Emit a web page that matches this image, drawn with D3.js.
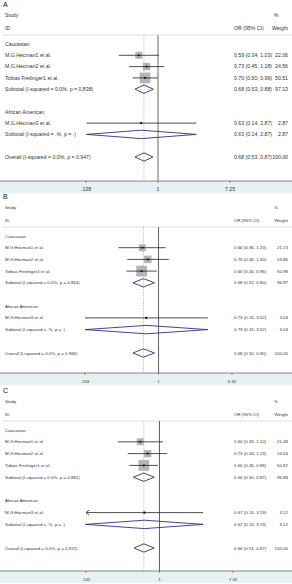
<!DOCTYPE html>
<html>
<head>
<meta charset="utf-8">
<script src="https://cdn.jsdelivr.net/npm/d3@7"></script>
<style>
  body { margin: 0; background: #fff; }
  svg { display: block; font-family: "Liberation Sans", Arial, sans-serif; }
</style>
</head>
<body>
<script>
// ---- data ----
const studies = ["M.G.Hecman1 et al.", "M.G.Hecman2 et al.", "Tobias Freilinger1 et al.", "M.G.Hecman3 et al."];
const groups = ["Caucasian", "African American"];
const studyGroup = [0, 0, 0, 1];
const panelNames = ["A", "B", "C"];

// panel A
const orA = [0.59, 0.73, 0.70, 0.63];
const loA = [0.34, 0.45, 0.50, 0.14];
const hiA = [1.03, 1.18, 0.99, 2.87];
const wtA = [22.06, 24.56, 50.51, 2.87];
const subA = [[0.68, 0.53, 0.88, 97.13], [0.63, 0.14, 2.87, 2.87]];
const allA = [0.68, 0.53, 0.87, 100.00];
const hetA = ["0.0%, p = 0.838", ".%, p = .", "0.0%, p = 0.947"];
const ticksA = [0.138, 1, 7.25];
const tickLabelsA = [".138", "1", "7.25"];

// panel B (lower limit of study 4 shown as 0.15, lies on the .153 axis end)
const orB = [0.66, 0.76, 0.65, 0.73];
const loB = [0.36, 0.45, 0.44, 0.153];
const hiB = [1.20, 1.30, 0.96, 3.52];
const wtB = [21.13, 24.86, 50.98, 3.03];
const subB = [[0.68, 0.52, 0.90, 96.97], [0.73, 0.153, 3.52, 3.03]];
const allB = [0.68, 0.52, 0.90, 100.00];
const hetB = ["0.0%, p = 0.854", ".%, p = .", "0.0%, p = 0.966"];
const ticksB = [0.153, 1, 6.52];
const tickLabelsB = [".153", "1", "6.52"];

// panel C
const orC = [0.60, 0.73, 0.66, 0.67];
const loC = [0.33, 0.43, 0.45, 0.14];
const hiC = [1.10, 1.23, 0.96, 3.19];
const wtC = [21.48, 24.53, 50.87, 3.12];
const subC = [[0.66, 0.50, 0.87, 96.88], [0.67, 0.14, 3.19, 3.12]];
const allC = [0.66, 0.51, 0.87, 100.00];
const hetC = ["0.0%, p = 0.891", ".%, p = .", "0.0%, p = 0.972"];
const ticksC = [0.142, 1, 7.05];
const tickLabelsC = [".142", "1", "7.05"];

// ---- layout (not data) ----
const W = 292, H = 584;
const layouts = [
  { top: 0,   step: 11.3, axis: 181, range: [86, 230], font: 5.2, nullCol: "#a0a0a0", nullW: 1.6 },
  { top: 192, step: 11.7, axis: 181, range: [85, 232], font: 4.4, nullCol: "#3a3a3a", nullW: 0.8 },
  { top: 386, step: 11.8, axis: 185, range: [86, 233], font: 4.4, nullCol: "#3a3a3a", nullW: 0.8 }
];
const panels = [
  { or: orA, lo: loA, hi: hiA, wt: wtA, sub: subA, all: allA, het: hetA, ticks: ticksA, tl: tickLabelsA },
  { or: orB, lo: loB, hi: hiB, wt: wtB, sub: subB, all: allB, het: hetB, ticks: ticksB, tl: tickLabelsB },
  { or: orC, lo: loC, hi: hiC, wt: wtC, sub: subC, all: allC, het: hetC, ticks: ticksC, tl: tickLabelsC }
];

const f2 = d3.format(".2f");
const textCol = "#333", navy = "#2f2f86";

const svg = d3.select("body").append("svg").attr("width", W).attr("height", H);

panels.forEach((p, pi) => {
  const L = layouts[pi];
  const g = svg.append("g").attr("transform", `translate(0,${L.top})`);
  const x = d3.scaleLog().domain([p.ticks[0], p.ticks[2]]).range(L.range);
  const rowY = d3.scaleLinear().domain([0, 1]).range([44, 44 + L.step]);
  const fs = L.font;

  // rows in display order
  const rows = [];
  groups.forEach((grp, gi) => {
    const base = gi === 0 ? 0 : 6;
    rows.push({ type: "group", label: grp, i: base });
    let k = 1;
    studies.forEach((s, si) => {
      if (studyGroup[si] !== gi) return;
      rows.push({ type: "study", label: s, i: base + k, or: p.or[si], lo: p.lo[si], hi: p.hi[si], wt: p.wt[si] });
      k++;
    });
    const sb = p.sub[gi];
    rows.push({ type: "diamond", label: `Subtotal  (I-squared = ${p.het[gi]})`, i: base + k, or: sb[0], lo: sb[1], hi: sb[2], wt: sb[3] });
  });
  rows.push({ type: "diamond", label: `Overall  (I-squared = ${p.het[2]})`, i: 10, or: p.all[0], lo: p.all[1], hi: p.all[2], wt: p.all[3] });

  // panel letter
  g.append("text").attr("x", 3).attr("y", 5).attr("dy", "0.35em")
    .attr("font-size", 7).attr("fill", "#111").text(panelNames[pi]);

  // header
  const hdr = g.append("g").attr("font-size", fs).attr("fill", textCol);
  hdr.append("text").attr("x", 5).attr("y", 15).attr("dy", "0.35em").text("Study");
  hdr.append("text").attr("x", 5).attr("y", 28).attr("dy", "0.35em").text("ID");
  hdr.append("text").attr("x", 276).attr("y", 15).attr("dy", "0.35em").attr("text-anchor", "middle").text("%");
  hdr.append("text").attr("x", 234).attr("y", 28).attr("dy", "0.35em").text("OR (95% CI)");
  hdr.append("text").attr("x", 288).attr("y", 28).attr("dy", "0.35em").attr("text-anchor", "end").text("Weight");
  g.append("line").attr("x1", 2).attr("x2", W).attr("y1", 35).attr("y2", 35)
    .attr("stroke", "#d4d4d4").attr("stroke-width", 0.8);

  // axis band + axis
  g.append("rect").attr("x", 0).attr("y", L.axis).attr("width", W).attr("height", 12).attr("fill", "#e6f1f3");
  g.append("line").attr("x1", 0).attr("x2", W).attr("y1", L.axis).attr("y2", L.axis)
    .attr("stroke", "#555").attr("stroke-width", 0.7);
  const tk = g.selectAll(".tk").data(p.ticks).join("g").attr("class", "tk");
  tk.append("line").attr("x1", d => x(d)).attr("x2", d => x(d)).attr("y1", L.axis).attr("y2", L.axis + 2)
    .attr("stroke", "#555").attr("stroke-width", 0.6);
  tk.append("text").attr("x", d => x(d)).attr("y", L.axis + 8).attr("dy", "0.35em")
    .attr("text-anchor", "middle").attr("font-size", fs).attr("fill", textCol)
    .text((d, i) => p.tl[i]);

  // null line and overall dashed line
  g.append("line").attr("x1", x(1)).attr("x2", x(1)).attr("y1", 35).attr("y2", L.axis)
    .attr("stroke", L.nullCol).attr("stroke-width", L.nullW);
  g.append("line").attr("x1", x(p.all[0])).attr("x2", x(p.all[0])).attr("y1", 35).attr("y2", L.axis)
    .attr("stroke", "#9a9a9a").attr("stroke-width", 0.6).attr("stroke-dasharray", "1.5,1.2");

  // row labels
  g.selectAll(".lab").data(rows).join("text").attr("class", "lab")
    .attr("x", 5).attr("y", d => rowY(d.i)).attr("dy", "0.35em")
    .attr("font-size", fs).attr("fill", textCol).text(d => d.label);

  const est = rows.filter(d => d.type !== "group");
  g.selectAll(".ci").data(est).join("text").attr("class", "ci")
    .attr("x", 234).attr("y", d => rowY(d.i)).attr("dy", "0.35em")
    .attr("font-size", fs).attr("fill", textCol)
    .text(d => `${f2(d.or)} (${f2(d.lo)}, ${f2(d.hi)})`);
  g.selectAll(".wt").data(est).join("text").attr("class", "wt")
    .attr("x", 288).attr("y", d => rowY(d.i)).attr("dy", "0.35em").attr("text-anchor", "end")
    .attr("font-size", fs).attr("fill", textCol).text(d => f2(d.wt));

  // studies: box, CI line, dot
  const st = rows.filter(d => d.type === "study");
  const [dmin, dmax] = x.domain();
  g.selectAll(".box").data(st).join("rect").attr("class", "box")
    .attr("x", d => x(d.or) - 0.75 * Math.sqrt(d.wt)).attr("y", d => rowY(d.i) - 0.75 * Math.sqrt(d.wt))
    .attr("width", d => 1.5 * Math.sqrt(d.wt)).attr("height", d => 1.5 * Math.sqrt(d.wt))
    .attr("fill", "#b4b4b4");
  g.selectAll(".ciline").data(st).join("line").attr("class", "ciline")
    .attr("x1", d => x(Math.max(d.lo, dmin))).attr("x2", d => x(Math.min(d.hi, dmax)))
    .attr("y1", d => rowY(d.i)).attr("y2", d => rowY(d.i))
    .attr("stroke", "#222").attr("stroke-width", 0.8);
  g.selectAll(".arrow").data(st.filter(d => d.lo < dmin)).join("path").attr("class", "arrow")
    .attr("d", d => {
      const ax = x(dmin), ay = rowY(d.i);
      return `M${ax + 3},${ay - 2.5}L${ax},${ay}L${ax + 3},${ay + 2.5}`;
    })
    .attr("fill", "none").attr("stroke", "#222").attr("stroke-width", 0.8);
  g.selectAll(".dot").data(st).join("rect").attr("class", "dot")
    .attr("x", d => x(d.or) - 0.9).attr("y", d => rowY(d.i) - 0.9)
    .attr("width", 1.8).attr("height", 1.8).attr("fill", "#111");

  // diamonds
  g.selectAll(".dia").data(rows.filter(d => d.type === "diamond")).join("path").attr("class", "dia")
    .attr("d", d => {
      const y = rowY(d.i), h = 4.2;
      return `M${x(d.lo)},${y}L${x(d.or)},${y - h}L${x(d.hi)},${y}L${x(d.or)},${y + h}Z`;
    })
    .attr("fill", "none").attr("stroke", navy).attr("stroke-width", 0.9);
});
</script>
</body>
</html>
